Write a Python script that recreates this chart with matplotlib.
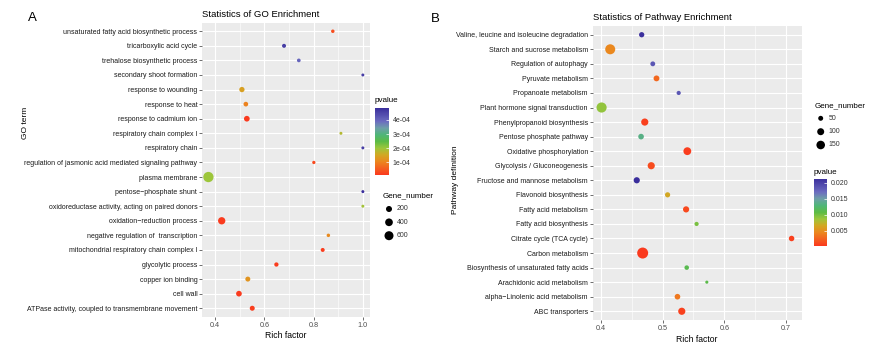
import numpy as np
import matplotlib
matplotlib.use("Agg")
import matplotlib.pyplot as plt
from matplotlib.colors import LinearSegmentedColormap, Normalize
from matplotlib.cm import ScalarMappable

# ---------------- data ----------------
go_terms = [
    "unsaturated fatty acid biosynthetic process",
    "tricarboxylic acid cycle",
    "trehalose biosynthetic process",
    "secondary shoot formation",
    "response to wounding",
    "response to heat",
    "response to cadmium ion",
    "respiratory chain complex I",
    "respiratory chain",
    "regulation of jasmonic acid mediated signaling pathway",
    "plasma membrane",
    "pentose\u2212phosphate shunt",
    "oxidoreductase activity, acting on paired donors",
    "oxidation\u2212reduction process",
    "negative regulation of  transcription",
    "mitochondrial respiratory chain complex I",
    "glycolytic process",
    "copper ion binding",
    "cell wall",
    "ATPase activity, coupled to transmembrane movement",
]
go_rich = [0.878, 0.680, 0.740, 1.0, 0.509, 0.525, 0.529, 0.911, 1.0, 0.801,
           0.373, 1.0, 1.0, 0.427, 0.860, 0.837, 0.649, 0.533, 0.497, 0.551]
go_pvalue = [3.5e-5, 4.6e-4, 4.0e-4, 4.6e-4, 1.4e-4, 1.0e-4, 1.0e-5, 1.8e-4, 4.6e-4, 3.0e-5,
             2.0e-4, 4.85e-4, 1.95e-4, 1.2e-5, 1.1e-4, 1.5e-5, 1.5e-5, 1.25e-4, 1.2e-5, 1.6e-5]
go_genes = [30, 52, 39, 14, 137, 93, 172, 14, 14, 23,
            840, 14, 14, 347, 30, 52, 68, 114, 172, 114]
go_size_breaks = [200, 400, 600]
go_cbar_ticks = [1e-4, 2e-4, 3e-4, 4e-4]
go_cbar_labels = ["1e-04", "2e-04", "3e-04", "4e-04"]
go_xticks = [0.4, 0.6, 0.8, 1.0]

kegg_terms = [
    "Valine, leucine and isoleucine degradation",
    "Starch and sucrose metabolism",
    "Regulation of autophagy",
    "Pyruvate metabolism",
    "Propanoate metabolism",
    "Plant hormone signal transduction",
    "Phenylpropanoid biosynthesis",
    "Pentose phosphate pathway",
    "Oxidative phosphorylation",
    "Glycolysis / Gluconeogenesis",
    "Fructose and mannose metabolism",
    "Flavonoid biosynthesis",
    "Fatty acid metabolism",
    "Fatty acid biosynthesis",
    "Citrate cycle (TCA cycle)",
    "Carbon metabolism",
    "Biosynthesis of unsaturated fatty acids",
    "Arachidonic acid metabolism",
    "alpha\u2212Linolenic acid metabolism",
    "ABC transporters",
]
kegg_rich = [0.466, 0.415, 0.484, 0.490, 0.526, 0.401, 0.471, 0.465, 0.540, 0.4815,
             0.458, 0.508, 0.538, 0.555, 0.709, 0.4676, 0.539, 0.5716, 0.524, 0.531]
kegg_pvalue = [0.0212, 0.0045, 0.0185, 0.0028, 0.0185, 0.0090, 0.0005, 0.0135, 0.0004, 0.0012,
               0.0214, 0.0065, 0.0010, 0.0098, 0.0005, 0.00016, 0.0112, 0.0110, 0.0036, 0.0006]
kegg_genes = [57, 205, 48, 70, 36, 210, 105, 65, 125, 105,
              78, 55, 78, 36, 62, 247, 42, 20, 65, 105]
kegg_size_breaks = [50, 100, 150]
kegg_cbar_ticks = [0.005, 0.010, 0.015, 0.020]
kegg_cbar_labels = ["0.005", "0.010", "0.015", "0.020"]
kegg_xticks = [0.4, 0.5, 0.6, 0.7]

# ---------------- style ----------------
W, H = 880, 349
fig = plt.figure(figsize=(W / 100, H / 100), dpi=100)
fig.patch.set_facecolor("white")

cmap = LinearSegmentedColormap.from_list("pv", [
    (0.00, "#FA3A1E"),
    (0.10, "#F4601F"),
    (0.20, "#EB871E"),
    (0.30, "#D2A823"),
    (0.40, "#9DC63B"),
    (0.50, "#5CBB45"),
    (0.60, "#4FB678"),
    (0.70, "#6E9FA8"),
    (0.80, "#6C6CC0"),
    (1.00, "#3A2E9C"),
])

NARROW = ["Liberation Sans Narrow", "Liberation Sans", "DejaVu Sans"]
SANS = ["Liberation Sans", "DejaVu Sans"]
PX = 0.72  # points per pixel


def px_ax(l, t, r, b):
    return fig.add_axes([l / W, 1 - b / H, (r - l) / W, (b - t) / H])


def size_go(v):
    d = 1.9 + 0.29 * np.sqrt(np.asarray(v, float))
    return (d * PX) ** 2


def size_kegg(v):
    d = 0.7 * np.sqrt(np.asarray(v, float))
    return (d * PX) ** 2


def panel(ax, terms, rich, pv, genes, sizef, xticks, xlim, norm, minor):
    n = len(terms)
    y = np.arange(n)[::-1]
    ax.set_facecolor("#EBEBEB")
    for s in ax.spines.values():
        s.set_visible(False)
    ax.set_xlim(*xlim)
    ax.set_ylim(-0.6, n - 0.4)
    ax.set_xticks(xticks)
    ax.set_xticklabels([f"{t:.1f}" for t in xticks], fontsize=5.2,
                       color="#4D4D4D", family=SANS)
    ax.set_xticks(minor, minor=True)
    ax.set_yticks(y)
    ax.set_yticklabels(terms, fontsize=5.0, family=NARROW, color="#1A1A1A")
    ax.tick_params(axis="both", which="major", length=2.2, width=0.5,
                   color="#333333", pad=1.2)
    ax.tick_params(axis="x", which="minor", length=0)
    ax.grid(True, which="major", color="white", lw=0.8)
    ax.grid(True, which="minor", axis="x", color="white", lw=0.4)
    ax.set_axisbelow(True)
    ax.scatter(rich, y, s=sizef(genes), c=pv, cmap=cmap, norm=norm,
               edgecolors="none", zorder=3)
    ax.set_xlabel("Rich factor", fontsize=6.2, family=SANS, labelpad=2)


# Panel A
normA = Normalize(vmin=min(go_pvalue), vmax=max(go_pvalue))
axA = px_ax(202, 22.5, 370, 317)
panel(axA, go_terms, go_rich, go_pvalue, go_genes, size_go, go_xticks,
      (0.347, 1.029), normA, [0.5, 0.7, 0.9])
axA.set_title("Statistics of GO Enrichment", fontsize=6.8, family=SANS,
              pad=4, loc="left")
fig.text(25 / W, 1 - 123 / H, "GO term", rotation=90, fontsize=6.0,
         family=SANS, ha="center", va="center")

# Panel B
normB = Normalize(vmin=min(kegg_pvalue), vmax=max(kegg_pvalue))
axB = px_ax(592.7, 26, 801.7, 320)
panel(axB, kegg_terms, kegg_rich, kegg_pvalue, kegg_genes, size_kegg, kegg_xticks,
      (0.3866, 0.7254), normB, [0.45, 0.55, 0.65])
axB.set_title("Statistics of Pathway Enrichment", fontsize=6.8, family=SANS,
              pad=4, loc="left")
fig.text(455 / W, 1 - 180 / H, "Pathway definition", rotation=90, fontsize=6.0,
         family=SANS, ha="center", va="center")

fig.text(28 / W, 1 - 18 / H, "A", fontsize=9.5, family=SANS, va="center")
fig.text(431 / W, 1 - 19 / H, "B", fontsize=9.5, family=SANS, va="center")


def colorbar(l, t, r, b, norm, ticks, labels, title_y):
    cax = px_ax(l, t, r, b)
    cb = fig.colorbar(ScalarMappable(norm=norm, cmap=cmap), cax=cax)
    cb.outline.set_visible(False)
    cb.set_ticks(ticks)
    cb.set_ticklabels(labels)
    cax.tick_params(length=2, width=0.5, color="white", direction="in",
                    labelsize=5.0, pad=2.5, labelcolor="#333333")
    for lab in cax.get_yticklabels():
        lab.set_family(SANS)
    fig.text(l / W, 1 - title_y / H, "pvalue", fontsize=5.8, family=SANS,
             va="center", ha="left")


def size_legend(x_title, y_title, x_c, ys, breaks, sizef):
    fig.text(x_title / W, 1 - y_title / H, "Gene_number", fontsize=5.8,
             family=SANS, va="center", ha="left")
    ov = fig.add_axes([0, 0, 1, 1], facecolor="none")
    ov.set_xlim(0, W)
    ov.set_ylim(H, 0)
    ov.axis("off")
    ov.scatter([x_c] * len(breaks), ys, s=sizef(breaks), c="black",
               edgecolors="none")
    for yy, b in zip(ys, breaks):
        ov.text(x_c + 8, yy, str(b), fontsize=5.0, family=SANS,
                va="center", ha="left", color="#333333")


colorbar(375, 108, 389, 175, normA, go_cbar_ticks, go_cbar_labels, 101)
size_legend(383, 196, 389, [209, 222.3, 235.7], go_size_breaks, size_go)

colorbar(814, 178.5, 827, 246, normB, kegg_cbar_ticks, kegg_cbar_labels, 172)
size_legend(815, 105.7, 820.7, [118.3, 131.7, 145], kegg_size_breaks, size_kegg)

fig.savefig("out.png", dpi=100, facecolor="white")
